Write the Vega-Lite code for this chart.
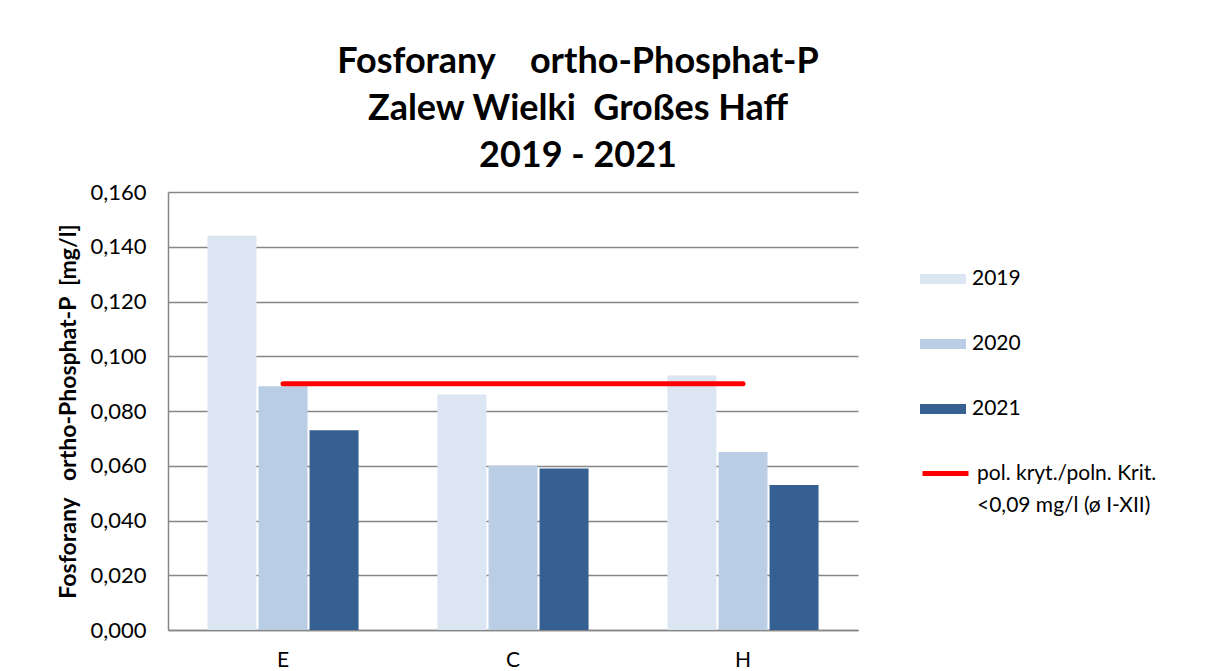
{
  "$schema": "https://vega.github.io/schema/vega-lite/v6.json",
  "width": 690,
  "height": 438,
  "autosize": {"type": "none"},
  "padding": {"left": 168, "top": 192, "right": 348, "bottom": 41},
  "background": "white",
  "config": {"font": "Lato", "view": {"stroke": null}, "style": {"guide-label": {"lineHeight": 32}}},
  "title": {
    "text": ["Fosforany\u00a0\u00a0\u00a0 ortho-Phosphat-P", "Zalew Wielki\u00a0 Großes Haff", "2019 - 2021"],
    "fontSize": 36,
    "fontWeight": "bold",
    "font": "Lato",
    "lineHeight": 47,
    "anchor": "middle",
    "dx": 65,
    "offset": 6,
    "color": "black"
  },
  "datasets": {
    "bars": [
      {"station": "E", "year": "2019", "value": 0.144},
      {"station": "E", "year": "2020", "value": 0.089},
      {"station": "E", "year": "2021", "value": 0.073},
      {"station": "C", "year": "2019", "value": 0.086},
      {"station": "C", "year": "2020", "value": 0.060},
      {"station": "C", "year": "2021", "value": 0.059},
      {"station": "H", "year": "2019", "value": 0.093},
      {"station": "H", "year": "2020", "value": 0.065},
      {"station": "H", "year": "2021", "value": 0.053}
    ],
    "limit": [
      {"station": "E", "limit": 0.09, "label": "pol. kryt./poln. Krit.|<0,09 mg/l (ø I-XII)"},
      {"station": "C", "limit": 0.09, "label": "pol. kryt./poln. Krit.|<0,09 mg/l (ø I-XII)"},
      {"station": "H", "limit": 0.09, "label": "pol. kryt./poln. Krit.|<0,09 mg/l (ø I-XII)"}
    ]
  },
  "layer": [
    {
      "data": {"name": "bars"},
      "mark": {"type": "bar"},
      "encoding": {
        "x": {
          "field": "station", "type": "nominal", "sort": ["E", "C", "H"],
          "scale": {"paddingInner": 0.343, "paddingOuter": 0.1715},
          "axis": {
            "title": null, "labelAngle": 0, "labelFontSize": 21, "labelColor": "black",
            "labelPadding": 19, "ticks": false, "domainColor": "#868686", "domainWidth": 1.5
          }
        },
        "xOffset": {
          "field": "year", "type": "nominal", "sort": ["2019", "2020", "2021"],
          "scale": {"paddingInner": 0.04, "paddingOuter": 0}
        },
        "y": {
          "field": "value", "type": "quantitative",
          "scale": {"domain": [0, 0.16], "nice": false},
          "axis": {
            "title": "Fosforany\u00a0\u00a0 ortho-Phosphat-P\u00a0 [mg/l]",
            "titleFontSize": 23, "titleFontWeight": "bold", "titleColor": "black", "titlePadding": 9,
            "values": [0, 0.02, 0.04, 0.06, 0.08, 0.1, 0.12, 0.14, 0.16],
            "labelExpr": "replace(format(datum.value, '.3f'), '.', ',')",
            "labelFontSize": 22, "labelColor": "black", "labelPadding": 22,
            "ticks": false, "domainColor": "#868686", "domainWidth": 1.5,
            "grid": true, "gridColor": "#868686", "gridWidth": 1.5
          }
        },
        "fill": {
          "field": "year", "type": "nominal",
          "scale": {"domain": ["2019", "2020", "2021"], "range": ["#DCE6F2", "#B9CDE5", "#376092"]},
          "legend": {
            "orient": "none", "legendX": 752, "legendY": 64, "title": null,
            "symbolType": "M-1,-0.22L1,-0.22L1,0.22L-1,0.22Z", "symbolSize": 2116,
            "symbolStrokeWidth": 0, "labelFontSize": 21, "labelColor": "black",
            "rowPadding": 32, "labelOffset": 6
          }
        }
      }
    },
    {
      "data": {"name": "limit"},
      "mark": {"type": "line", "strokeWidth": 5, "strokeCap": "round"},
      "encoding": {
        "x": {"field": "station", "type": "nominal", "sort": ["E", "C", "H"], "bandPosition": 0.5},
        "y": {"field": "limit", "type": "quantitative"},
        "stroke": {
          "field": "label", "type": "nominal",
          "scale": {"range": ["#FF0000"]},
          "legend": {
            "orient": "none", "legendX": 752, "legendY": 256, "title": null,
            "symbolType": "stroke", "symbolSize": 2116, "symbolStrokeWidth": 5,
            "labelExpr": "split(datum.label, '|')", "labelFontSize": 21, "labelColor": "black",
            "labelOffset": 6, "labelLimit": 400
          }
        }
      }
    }
  ]
}
